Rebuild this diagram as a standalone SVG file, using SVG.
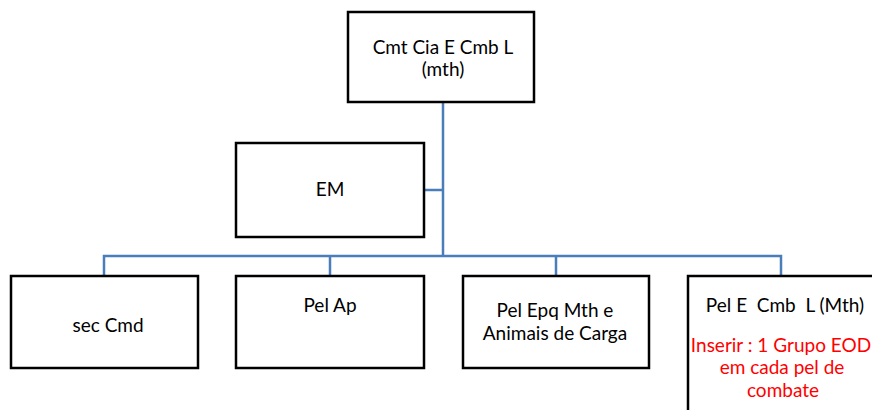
<svg xmlns="http://www.w3.org/2000/svg" width="872" height="410" viewBox="0 0 872 410">
<style>
.box{fill:#fff;stroke:#000;stroke-width:2.5}
.t{font-family:Lato,"Liberation Sans",sans-serif;font-size:19px;fill:#000;text-anchor:middle;white-space:pre}
.r{fill:#ff0000}
.c{fill:none;stroke:#4a7ebb;stroke-width:2.5}
</style>
<rect width="872" height="410" fill="#fff"/>
<g id="connectors">
<path class="c" d="M443 102V256M424 190H443M104 276V256H781V276M330 256V276M556 256V276"/>
</g>
<g id="cmt"><rect class="box" x="348" y="12" width="186" height="90"/>
<text class="t" x="443" y="54">Cmt Cia E Cmb L</text><text class="t" x="443" y="76">(mth)</text></g>
<g id="em"><rect class="box" x="236" y="143" width="188" height="94"/>
<text class="t" x="330" y="196">EM</text></g>
<g id="sec"><rect class="box" x="11" y="276" width="187" height="92"/>
<text class="t" x="108" y="332">sec Cmd</text></g>
<g id="pelap"><rect class="box" x="236" y="276" width="188" height="92"/>
<text class="t" x="330" y="312">Pel Ap</text></g>
<g id="pelepq"><rect class="box" x="463" y="276" width="186" height="92"/>
<text class="t" x="555" y="317">Pel Epq Mth e</text><text class="t" x="555" y="340">Animais de Carga</text></g>
<g id="pele"><rect class="box" x="688" y="276" width="200" height="150"/>
<text class="t" x="785" y="312" xml:space="preserve">Pel E  Cmb  L (Mth)</text>
<text class="t r" x="781" y="352">Inserir : 1 Grupo EOD</text>
<text class="t r" x="782" y="374">em cada pel de</text>
<text class="t r" x="783" y="397">combate</text></g>
</svg>
